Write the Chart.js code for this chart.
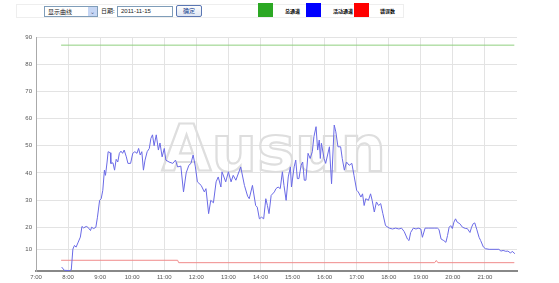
<!DOCTYPE html>
<html>
<head>
<meta charset="utf-8">
<script src="https://cdn.jsdelivr.net/npm/chart.js@4/dist/chart.umd.min.js"></script>
<style>
  body { margin: 0; background: #fff; width: 559px; height: 283px; overflow: hidden; position: relative; font-family: "Noto Sans CJK SC", "Liberation Sans", sans-serif; }
  #chart { position: absolute; left: 0; top: 0; }
  .box { position: absolute; box-sizing: border-box; font-size: 6px; line-height: 9px; color: #222; white-space: nowrap; }
  #frame { left: 16px; top: 4px; width: 388px; height: 14px; border: 1px solid #eee; }
  #sel { left: 44px; top: 6px; width: 54px; height: 11px; border: 1px solid #7f9db9; padding-left: 3px; }
  #sel span { position: absolute; right: 0; top: 0; width: 9px; height: 9px; background: #c6d6f4; color: #4d6185; font-size: 6px; line-height: 9px; text-align: center; }
  #dateLbl { left: 101px; top: 6px; }
  #date { left: 117px; top: 6px; width: 56px; height: 11px; border: 1px solid #7f9db9; padding-left: 3px; font-family: "Liberation Sans", sans-serif; }
  #ok { left: 176px; top: 5px; width: 26px; height: 12px; border: 1px solid #5b77b3; border-radius: 2px; background: linear-gradient(#fdfdfd, #dfe6f3); color: #1b3f8f; text-align: center; line-height: 10px; }
  .sq { position: absolute; width: 15px; height: 14px; top: 3px; }
  .lg { top: 6px; font-size: 5px; color: #000; font-weight: bold; }
</style>
</head>
<body>
<div class="box" id="frame"></div>
<div class="box" id="sel">显示曲线<span>&#8964;</span></div>
<div class="box" id="dateLbl">日期:</div>
<div class="box" id="date">2011-11-15</div>
<div class="box" id="ok">确定</div>
<div class="sq" style="left:258px;background:#2ca824"></div>
<div class="box lg" style="left:285px">总通道</div>
<div class="sq" style="left:306px;background:#0000ff"></div>
<div class="box lg" style="left:333px">活动通道</div>
<div class="sq" style="left:354px;background:#ff0000"></div>
<div class="box lg" style="left:380px">错误数</div>
<canvas id="chart" width="559" height="283"></canvas>
<script>
const xTicks = ['7:00', '8:00', '9:00', '10:00', '11:00', '12:00', '13:00', '14:00', '15:00', '16:00', '17:00', '18:00', '19:00', '20:00', '21:00'];
const yTicks = [10, 20, 30, 40, 50, 60, 70, 80, 90];

// 总通道
const totalTimes = ['7:47', '21:55'];
const totalValues = [87, 87];

// 错误数
const errorTimes = ['7:47', '11:25', '11:27', '19:26', '19:29', '19:32', '21:55'];
const errorValues = [4.9, 4.9, 3.8, 3.8, 4.8, 3.8, 3.8];

// 活动通道
const activeTimes = [
  '7:48', '7:53', '8:03', '8:06', '8:09', '8:12', '8:15', '8:19', '8:23', '8:26', '8:29', '8:34', '8:37', '8:42', '8:44', '8:48', '8:52', '8:55', '8:59',
  '9:02', '9:05', '9:08', '9:10', '9:13', '9:15', '9:19', '9:20', '9:24', '9:27', '9:30', '9:33', '9:36', '9:39', '9:42', '9:45', '9:49', '9:52', '9:57',
  '10:01', '10:05', '10:09', '10:12', '10:15', '10:18', '10:21', '10:24', '10:28', '10:32', '10:35', '10:38', '10:41', '10:45', '10:49', '10:52', '10:56',
  '11:00', '11:03', '11:09', '11:16', '11:21', '11:25', '11:31', '11:36', '11:41', '11:46', '11:50', '11:54', '11:58',
  '12:02', '12:09', '12:15', '12:18', '12:23', '12:27', '12:32', '12:37', '12:41', '12:46', '12:48', '12:55',
  '13:00', '13:05', '13:09', '13:14', '13:23', '13:30', '13:36', '13:39', '13:45', '13:51', '13:54', '13:58',
  '14:02', '14:06', '14:10', '14:13', '14:16', '14:20', '14:26', '14:29', '14:33', '14:37', '14:41', '14:44', '14:48', '14:52', '14:56', '14:58',
  '15:03', '15:06', '15:09', '15:12', '15:16', '15:19', '15:22', '15:25', '15:29', '15:33', '15:37', '15:40', '15:44', '15:47', '15:50', '15:52', '15:54', '15:59',
  '16:02', '16:09', '16:13', '16:18', '16:21', '16:25', '16:30', '16:33', '16:37', '16:41', '16:46', '16:51', '16:55',
  '17:00', '17:03', '17:08', '17:11', '17:14', '17:17', '17:22', '17:26', '17:29', '17:33', '17:37', '17:41', '17:45', '17:49', '17:54',
  '18:01', '18:07', '18:13', '18:19', '18:24', '18:29', '18:35', '18:38', '18:41', '18:46', '18:51', '18:55',
  '19:00', '19:03', '19:08', '19:15', '19:25', '19:31', '19:34', '19:38', '19:43', '19:47', '19:50', '19:53', '19:56', '19:59',
  '20:02', '20:05', '20:08', '20:13', '20:18', '20:24', '20:27', '20:32', '20:35', '20:38', '20:41', '20:45', '20:49', '20:52', '20:57',
  '21:01', '21:08', '21:17', '21:26', '21:30', '21:34', '21:39', '21:43', '21:48', '21:51', '21:56'
];
const activeValues = [
  1.8, 0.3, 0.2, 0.5, 10, 11.7, 10.9, 13.2, 15.5, 20.3, 19.7, 20.3, 20, 18.5, 20, 19.4, 20, 23.7, 29.9,
  30.5, 33.6, 41, 39.1, 44, 47.8, 47.4, 43.5, 43.7, 41, 45, 44, 47.2, 48, 47.2, 48.4, 45.9, 43.5, 43.5,
  47.2, 47.8, 47.2, 49, 46.6, 47.8, 41, 44.7, 47.8, 49, 52.7, 54, 50, 54, 48.4, 51, 45.9,
  49, 44.7, 44, 43.5, 44.7, 42.2, 42.5, 33, 40, 42.8, 43.5, 46.6, 42.5,
  36.7, 35.4, 33, 34.2, 25, 29.9, 29, 36.7, 38.5, 34.8, 40.4, 36.7,
  40.4, 36.7, 39.1, 37.3, 42.2, 35.4, 31.4, 30.5, 35.4, 28, 27.4, 23.1,
  23.7, 23.1, 30.5, 28, 25, 31.7, 33, 34.2, 34.8, 34.2, 40.4, 35.4, 29.9, 38.5, 42.2, 34.8,
  42.2, 44.7, 37.9, 37.9, 42.8, 44, 37.3, 37.3, 47.2, 45.3, 47.8, 53.3, 57, 48.4, 52.1, 45.3, 50.9, 45.3,
  43.5, 49.6, 36, 57.6, 55.1, 49.6, 49.6, 45.3, 41, 44, 42.8, 43.5, 39.1,
  33.6, 33, 31.1, 32.3, 28, 30.5, 29.9, 32.3, 29.9, 25.6, 29.3, 28, 28.7, 25, 20.6,
  19.6, 19.2, 19.6, 19.2, 19.6, 18, 14.6, 13.9, 17.6, 19.6, 19.2, 19.6,
  19.2, 15.4, 19.6, 19.6, 19.6, 19.6, 19, 14.6, 13.9, 13.1, 16.2, 20, 20.6, 19.4,
  21.9, 23.1, 21.9, 21.3, 20, 19.4, 19.4, 17.6, 20, 21.3, 21.6, 18.8, 15.4, 13.9, 11,
  10.2, 9.9, 9.9, 9.9, 9.1, 9.4, 9, 9.1, 8.2, 9, 7.9
];

const toHours = t => { const [h, m] = t.split(':').map(Number); return h + m / 60; };
const toPoints = (times, values) => times.map((t, i) => ({ x: toHours(t), y: values[i] }));

// y axis: 0-20 is squeezed into the bottom strip, 20-90 is linear above it
const LOW_PART = 0.187;
class SplitScale extends Chart.LinearScale {
  getPixelForValue(v) {
    const h = this.bottom - this.top;
    const f = v <= 20 ? (v / 20) * LOW_PART : LOW_PART + (v - 20) / (this.max - 20) * (1 - LOW_PART);
    return this.bottom - f * h;
  }
  getValueForPixel(p) {
    const f = (this.bottom - p) / (this.bottom - this.top);
    return f <= LOW_PART ? f / LOW_PART * 20 : 20 + (f - LOW_PART) / (1 - LOW_PART) * (this.max - 20);
  }
}
SplitScale.id = 'split';
SplitScale.defaults = Chart.LinearScale.defaults;
Chart.register(SplitScale);

const watermark = {
  id: 'watermark',
  beforeDatasetsDraw(chart) {
    const ctx = chart.ctx;
    ctx.save();
    ctx.font = 'bold 64px "DejaVu Sans", sans-serif';
    ctx.textAlign = 'center';
    ctx.textBaseline = 'alphabetic';
    ctx.lineWidth = 2.2;
    ctx.strokeStyle = '#dedede';
    ctx.strokeText('Ausun', 274, 171);
    ctx.restore();
  }
};

const tickFont = { family: '"Liberation Sans", sans-serif', size: 6 };
const lineDs = (label, times, values, color) => ({
  label, data: toPoints(times, values), borderColor: color, borderWidth: 1,
  pointRadius: 0, tension: 0, fill: false
});

new Chart(document.getElementById('chart'), {
  type: 'line',
  data: {
    datasets: [
      lineDs('总通道', totalTimes, totalValues, '#8fcf7f'),
      lineDs('活动通道', activeTimes, activeValues, '#6a6ae6'),
      lineDs('错误数', errorTimes, errorValues, '#f08a8a')
    ]
  },
  options: {
    responsive: false,
    animation: false,
    layout: { padding: { top: 37, right: 42, left: 0, bottom: 0 } },
    plugins: { legend: { display: false }, tooltip: { enabled: false } },
    scales: {
      x: {
        type: 'linear', min: 7, max: 22,
        afterFit: s => { s.height = 12; },
        border: { color: '#888', width: 2 },
        grid: {
          drawTicks: false,
          color: c => (c.tick && c.tick.value === 22) ? 'rgba(0,0,0,0)' : '#e3e3e3'
        },
        ticks: {
          stepSize: 1, autoSkip: false, maxRotation: 0, padding: 3,
          color: '#555', font: tickFont,
          callback: v => xTicks[v - 7] || ''
        }
      },
      y: {
        type: 'split', min: 0, max: 90,
        afterFit: s => { s.width = 36; },
        border: { color: '#aaa', width: 1 },
        grid: { drawTicks: false, color: '#e3e3e3' },
        ticks: {
          stepSize: 10, padding: 4, color: '#555', font: tickFont,
          callback: v => yTicks.includes(v) ? String(v) : ''
        }
      }
    }
  },
  plugins: [watermark]
});
</script>
</body>
</html>
